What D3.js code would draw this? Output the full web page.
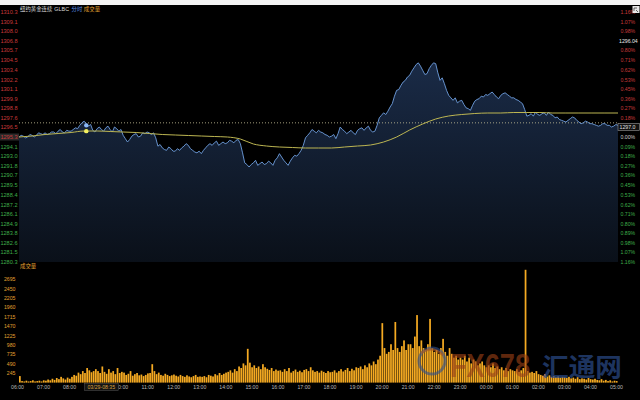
<!DOCTYPE html>
<html><head><meta charset="utf-8">
<script src="https://cdn.jsdelivr.net/npm/d3@7"></script>
<style>html,body{margin:0;padding:0;background:#000;} svg{display:block}</style>
</head><body><svg id="c" width="640" height="400"></svg>
<script>
// ---------------- data ----------------
const titleParts = ["纽约黄金连续", "GLBC", "分时", "成交量"];
const volTitle = "成交量";
const sessionStart = new Date(2023, 2, 29, 6, 0);
const sessionEnd = new Date(2023, 2, 30, 5, 0);

const priceStepMin = 5;
const price = [
  1295.3, 1295.5, 1295.4, 1295.2, 1295.3, 1295.6, 1295.5, 1295.3, 1295.5, 1295.8, 1295.7, 1295.6, // 06
  1295.8, 1295.6, 1295.7, 1295.9, 1295.9, 1295.7, 1296.0, 1296.2, 1295.9, 1295.8, 1296.1, 1296.0, // 07
  1296.0, 1296.2, 1296.4, 1296.3, 1296.7, 1297.0, 1297.2, 1296.9, 1296.6, 1296.8, 1296.1, 1295.9, // 08
  1296.3, 1296.5, 1296.2, 1296.0, 1296.4, 1296.6, 1296.2, 1295.9, 1296.5, 1296.3, 1296.0, 1296.2, // 09
  1295.5, 1295.1, 1294.7, 1295.0, 1295.4, 1295.6, 1295.7, 1295.3, 1295.4, 1295.8, 1295.7, 1295.9, // 10
  1295.8, 1295.6, 1295.8, 1295.2, 1294.2, 1294.4, 1294.0, 1293.8, 1293.7, 1294.1, 1293.9, 1293.6, // 11
  1293.6, 1293.9, 1293.7, 1294.0, 1294.2, 1294.5, 1294.3, 1293.9, 1293.7, 1293.5, 1293.4, 1293.6, // 12
  1293.3, 1293.7, 1294.0, 1294.3, 1294.5, 1294.3, 1294.6, 1294.8, 1294.3, 1294.5, 1294.7, 1294.5, // 13
  1294.6, 1294.9, 1294.8, 1294.6, 1294.9, 1295.0, 1294.5, 1293.4, 1292.2, 1292.0, 1291.7, 1292.0, // 14
  1292.2, 1292.5, 1291.9, 1292.1, 1292.3, 1292.0, 1292.1, 1292.4, 1292.2, 1291.9, 1292.5, 1292.8, // 15
  1293.3, 1292.9, 1292.5, 1292.2, 1291.9, 1292.4, 1292.8, 1293.1, 1293.0, 1293.3, 1293.7, 1294.3, // 16
  1295.2, 1295.5, 1295.8, 1296.2, 1296.0, 1295.8, 1296.1, 1295.9, 1295.8, 1295.6, 1295.5, 1295.3, // 17
  1295.4, 1295.6, 1295.1, 1295.7, 1296.5, 1296.2, 1296.0, 1295.7, 1295.9, 1296.1, 1295.8, 1295.6, // 18
  1296.1, 1296.3, 1296.4, 1296.1, 1296.4, 1296.6, 1296.1, 1295.9, 1296.0, 1296.7, 1297.6, 1297.9, // 19
  1298.2, 1298.0, 1298.4, 1298.9, 1299.3, 1300.2, 1300.9, 1301.0, 1301.5, 1301.9, 1302.1, 1302.5, // 20
  1302.7, 1303.2, 1303.6, 1304.0, 1304.2, 1303.8, 1303.3, 1302.8, 1302.9, 1303.5, 1303.9, 1304.2, // 21
  1304.1, 1303.0, 1302.1, 1302.4, 1301.7, 1300.9, 1300.3, 1300.0, 1299.7, 1300.0, 1299.4, 1299.6, // 22
  1299.7, 1299.2, 1298.8, 1298.7, 1298.5, 1299.1, 1299.6, 1299.8, 1299.9, 1300.2, 1300.1, 1300.4, // 23
  1300.3, 1300.5, 1300.7, 1300.4, 1300.1, 1299.9, 1300.3, 1300.5, 1300.6, 1300.4, 1300.2, 1300.0, // 00
  1300.0, 1299.8, 1299.7, 1299.5, 1299.3, 1298.6, 1297.8, 1297.9, 1298.1, 1297.8, 1298.3, 1298.0, // 01
  1297.9, 1298.1, 1298.2, 1297.9, 1298.3, 1298.0, 1297.9, 1297.6, 1297.7, 1297.4, 1297.3, 1297.2, // 02
  1297.1, 1297.3, 1297.5, 1297.7, 1297.6, 1297.3, 1297.1, 1296.9, 1297.0, 1297.2, 1297.1, 1296.9, // 03
  1296.9, 1296.8, 1296.7, 1296.6, 1296.7, 1296.9, 1296.9, 1296.7, 1296.7, 1296.5, 1296.6, 1296.8, // 04
  1296.7
];

const avgStepMin = 30;
const avgPrice = [
  1295.30, 1295.42, 1295.60, 1295.72, 1295.84, 1296.02, 1296.02, 1295.96,
  1295.90, 1295.84, 1295.72, 1295.60, 1295.54, 1295.48, 1295.42, 1295.36,
  1295.30, 1295.06, 1294.46, 1294.22, 1294.10, 1294.04, 1293.98, 1293.98,
  1293.98, 1294.10, 1294.22, 1294.34, 1294.70, 1295.30, 1296.14, 1296.86,
  1297.46, 1297.82, 1298.00, 1298.12, 1298.18, 1298.18, 1298.24, 1298.24,
  1298.24, 1298.18, 1298.18, 1298.18, 1298.18, 1298.18, 1298.18
];

const volStepMin = 5;
const volume = [
  170, 40, 30, 50, 30, 40, 60, 30, 40, 50, 30, 60,
  50, 80, 60, 100, 70, 120, 90, 150, 110, 80, 130, 100,
  150, 200, 180, 260, 220, 300, 250, 380, 320, 270, 300, 350,
  300, 250, 420, 280, 230, 350, 260, 300, 220, 380, 250, 280,
  260, 200, 230, 300, 180, 220, 250, 190, 210, 170, 200, 240,
  250, 480, 300, 220, 260, 200, 180, 230, 200, 170, 190, 210,
  180, 160, 200, 170, 150, 190, 160, 140, 170, 200, 150, 160,
  150, 170, 140, 200, 180, 160, 220, 190, 250, 200, 230, 260,
  280, 320, 260, 350, 300, 420, 380, 500, 450, 880, 520, 400,
  450, 380, 420, 350, 480, 400, 360, 330, 380, 300, 340, 310,
  320, 280, 350, 300, 380, 260, 300, 340, 280, 310, 270, 330,
  350, 300, 400, 320, 280, 300, 260, 310, 280, 250, 300, 270,
  280, 320, 260, 300, 350, 290, 330, 380, 300, 360, 320, 400,
  380, 420, 350, 450, 400, 500, 450, 550, 480, 600, 700, 1550,
  900, 750, 800, 1000, 850, 1580, 900, 800, 950, 1100, 850, 1000,
  1000, 900, 1200, 1760, 950, 1100, 900, 850, 1000, 1660, 900, 800,
  850, 750, 900, 1140, 800, 700, 900, 750, 650, 700, 600, 650,
  600, 700, 550, 650, 500, 600, 550, 450, 500, 550, 450, 400,
  450, 400, 500, 380, 420, 350, 400, 320, 380, 300, 350, 320,
  300, 350, 280, 320, 380, 2940, 300, 260, 280, 250, 300, 220,
  200, 180, 220, 160, 190, 150, 170, 140, 160, 130, 150, 140,
  120, 150, 110, 130, 100, 140, 90, 110, 100, 80, 120, 90,
  80, 100, 70, 60, 90, 50, 70, 40, 60, 30, 50, 40
];

const priceMin = 1280.3, priceMax = 1310.3;
const priceTicksUp = ["1310.3","1309.1","1308.0","1306.8","1305.7","1304.5","1303.4","1302.2","1301.1","1299.9","1298.8","1297.6","1296.5"];
const priceTickMid = "1295.3";
const priceTicksDown = ["1294.1","1293.0","1291.8","1290.7","1289.5","1288.4","1287.2","1286.1","1284.9","1283.8","1282.6","1281.5","1280.3"];
const pctTicksUp = ["1.16%","1.07%","0.98%","0.89%","0.80%","0.71%","0.62%","0.53%","0.45%","0.36%","0.27%","0.18%","0.09%"];
const pctTickMid = "0.00%";
const pctTicksDown = ["0.09%","0.18%","0.27%","0.36%","0.45%","0.53%","0.62%","0.71%","0.80%","0.89%","0.98%","1.07%","1.16%"];
const volMax = 2940;
const volTicks = [245, 490, 735, 980, 1225, 1470, 1715, 1960, 2205, 2450, 2695];
const timeTicks = ["06:00","07:00","08:00","09:00","10:00","11:00","12:00","13:00","14:00","15:00","16:00","17:00",
                   "18:00","19:00","20:00","21:00","22:00","23:00","00:00","01:00","02:00","03:00","04:00","05:00"];
const dottedPrice = 1297.0;
const lastLabel = "1297.0";
const highLabel = "1296.04";
const highLabelSlot = 3;           // sits over the 0.89% slot
const cursorTime = new Date(2023, 2, 29, 8, 35);
const cursorLabel = "03/29-08:35";
const cursorPrice = 1296.7, cursorAvg = 1296.0;
const watermark = ["FX678", "汇通网"];

// ---------------- layout ----------------
const svg = d3.select("#c");
const X0 = 19, X1 = 618;
const PT = 12, PB = 262;
const VT = 269.8, VB = 382.6;
const numFont = "'Liberation Sans', Arial, sans-serif";
const cjkFont = "'Noto Sans CJK SC', sans-serif";
const RED = "#c83a3a", GREEN = "#3fae4a";

const x = d3.scaleTime().domain([sessionStart, sessionEnd]).range([X0, X1]);
const yP = d3.scaleLinear().domain([priceMin, priceMax]).range([PB, PT]);
const yV = d3.scaleLinear().domain([0, volMax]).range([VB, VT]);
const tAt = (i, step) => d3.timeMinute.offset(sessionStart, i * step);

svg.append("rect").attr("width", 640).attr("height", 400).attr("fill", "#000");
svg.append("rect").attr("width", 640).attr("height", 5).attr("fill", "#f4f4f4");

const defs = svg.append("defs");
const g = defs.append("linearGradient").attr("id", "ag").attr("gradientUnits", "userSpaceOnUse")
  .attr("x1", 0).attr("y1", 60).attr("x2", 0).attr("y2", PB);
g.append("stop").attr("offset", 0).attr("stop-color", "#1a2b47");
g.append("stop").attr("offset", 1).attr("stop-color", "#0a1019");

const pdata = price.map((p, i) => ({ t: tAt(i, priceStepMin), p }));
svg.append("path").datum(pdata)
  .attr("d", d3.area().x(d => x(d.t)).y0(PB).y1(d => yP(d.p)))
  .attr("fill", "url(#ag)");

svg.append("line").attr("x1", X0).attr("x2", X1)
  .attr("y1", yP(dottedPrice)).attr("y2", yP(dottedPrice))
  .attr("stroke", "#c9c49a").attr("stroke-width", 0.8).attr("stroke-dasharray", "1,2");

svg.append("path").datum(pdata)
  .attr("d", d3.line().x(d => x(d.t)).y(d => yP(d.p)))
  .attr("fill", "none").attr("stroke", "#6f9fe0").attr("stroke-width", 0.9);

const adata = avgPrice.map((p, i) => ({ t: tAt(i, avgStepMin), p }));
svg.append("path").datum(adata)
  .attr("d", d3.line().curve(d3.curveMonotoneX).x(d => x(d.t)).y(d => yP(d.p)))
  .attr("fill", "none").attr("stroke", "#bdb652").attr("stroke-width", 1);

svg.append("circle").attr("cx", x(cursorTime)).attr("cy", yP(cursorPrice)).attr("r", 2.2).attr("fill", "#8ab8f8");
svg.append("circle").attr("cx", x(cursorTime)).attr("cy", yP(cursorAvg)).attr("r", 2.2).attr("fill", "#f4f060");

// left price labels
const leftG = svg.append("g").attr("font-family", numFont).attr("font-size", 5.6).attr("text-anchor", "end");
priceTicksUp.forEach(s => leftG.append("text").attr("x", 17.5).attr("y", yP(+s) + 2).attr("fill", RED).text(s));
leftG.append("rect").attr("x", 0).attr("y", yP(+priceTickMid) - 3.5).attr("width", 19).attr("height", 7).attr("fill", "#2a2a2a");
leftG.append("text").attr("x", 17.5).attr("y", yP(+priceTickMid) + 2).attr("fill", RED).text(priceTickMid);
priceTicksDown.forEach(s => leftG.append("text").attr("x", 17.5).attr("y", yP(+s) + 2).attr("fill", GREEN).text(s));

// right percent labels
const rightG = svg.append("g").attr("font-family", numFont).attr("font-size", 5.2).attr("text-anchor", "start");
pctTicksUp.forEach((s, k) => {
  if (k === highLabelSlot) return; // covered by the high label
  rightG.append("text").attr("x", 620.5).attr("y", yP(+priceTicksUp[k]) + 2).attr("fill", RED).text(s);
});
rightG.append("text").attr("x", 620.5).attr("y", yP(+priceTickMid) + 2).attr("fill", "#cfcfcf").text(pctTickMid);
pctTicksDown.forEach((s, k) => rightG.append("text").attr("x", 620.5).attr("y", yP(+priceTicksDown[k]) + 2).attr("fill", GREEN).text(s));

rightG.append("text").attr("x", 619).attr("y", yP(+priceTicksUp[highLabelSlot]) + 1.5).attr("fill", "#e8e8e8").text(highLabel);
rightG.append("rect").attr("x", 618).attr("y", yP(dottedPrice) + 0.5).attr("width", 21.5).attr("height", 7)
  .attr("fill", "#111").attr("stroke", "#9a9a9a").attr("stroke-width", 0.6);
rightG.append("text").attr("x", 619.5).attr("y", yP(dottedPrice) + 6).attr("fill", "#e0e0e0").text(lastLabel);

// top-right icon
svg.append("rect").attr("x", 632.5).attr("y", 6).attr("width", 7).attr("height", 7).attr("fill", "#e8e8e8");
svg.append("path").attr("d", "M634,11 L634,8 L637,8 M636,10 L638,12").attr("stroke", "#444").attr("stroke-width", 0.8).attr("fill", "none");

// header
const hdr = svg.append("text").attr("x", 20).attr("y", 11).attr("font-size", 5.4).attr("font-family", cjkFont);
hdr.append("tspan").attr("fill", "#dcdcdc").text(titleParts[0]);
hdr.append("tspan").attr("fill", "#dcdcdc").attr("dx", 2).attr("font-family", numFont).text(titleParts[1]);
hdr.append("tspan").attr("fill", "#5b8fe0").attr("dx", 2.5).text(titleParts[2]);
hdr.append("tspan").attr("fill", "#e0a030").attr("dx", 1.5).text(titleParts[3]);

// volume panel
svg.append("text").attr("x", 20).attr("y", 267.5).attr("font-size", 5.4).attr("font-family", cjkFont)
  .attr("fill", "#e0a030").text(volTitle);
const vG = svg.append("g").attr("font-family", numFont).attr("font-size", 5.2).attr("text-anchor", "end").attr("fill", "#e0a030");
volTicks.forEach(v => vG.append("text").attr("x", 15.5).attr("y", yV(v) + 2).text(v));

const bw = x(tAt(1, volStepMin)) - x(tAt(0, volStepMin));
svg.append("g").selectAll("rect").data(volume).join("rect")
  .attr("x", (v, i) => x(tAt(i, volStepMin)))
  .attr("width", bw * 0.8)
  .attr("y", v => yV(v))
  .attr("height", v => VB - yV(v))
  .attr("fill", "#f5aa22");

// watermark
const wm = svg.append("g");
wm.append("circle").attr("cx", 432).attr("cy", 361).attr("r", 13).attr("fill", "none")
  .attr("stroke", "#2d4f8e").attr("stroke-width", 3).attr("opacity", 0.6);
wm.append("path").attr("d", "M421,353 Q432,345 443,355").attr("fill", "none")
  .attr("stroke", "#b35a1e").attr("stroke-width", 2.5).attr("opacity", 0.6);
wm.append("text").attr("x", 450).attr("y", 377).attr("font-family", numFont).attr("font-weight", "bold")
  .attr("font-size", 33).attr("textLength", 80).attr("lengthAdjust", "spacingAndGlyphs")
  .attr("fill", "#9a4016").attr("opacity", 0.62).text(watermark[0]);
wm.append("text").attr("x", 542).attr("y", 376).attr("font-family", cjkFont).attr("font-weight", "bold")
  .attr("font-size", 25).attr("textLength", 80).attr("lengthAdjust", "spacingAndGlyphs")
  .attr("fill", "#2a4a88").attr("opacity", 0.7).text(watermark[1]);

// time axis labels (the one under the cursor box is hidden by it)
const cx = x(cursorTime);
const tG = svg.append("g").attr("font-family", numFont).attr("font-size", 5.2).attr("text-anchor", "middle").attr("fill", "#b8b8b8");
timeTicks.forEach((s, k) => {
  const tx = x(d3.timeHour.offset(sessionStart, k)) - 1.5;
  if (tx > cx - 8 && tx < cx + 34) return;
  tG.append("text").attr("x", tx).attr("y", 389).text(s);
});

svg.append("rect").attr("x", cx - 2).attr("y", 383.5).attr("width", 34).attr("height", 7)
  .attr("fill", "#141414").attr("stroke", "#555").attr("stroke-width", 0.5);
svg.append("text").attr("x", cx + 15).attr("y", 389).attr("text-anchor", "middle").attr("font-family", numFont)
  .attr("font-size", 5.2).attr("fill", "#d8a040").text(cursorLabel);
</script></body></html>
